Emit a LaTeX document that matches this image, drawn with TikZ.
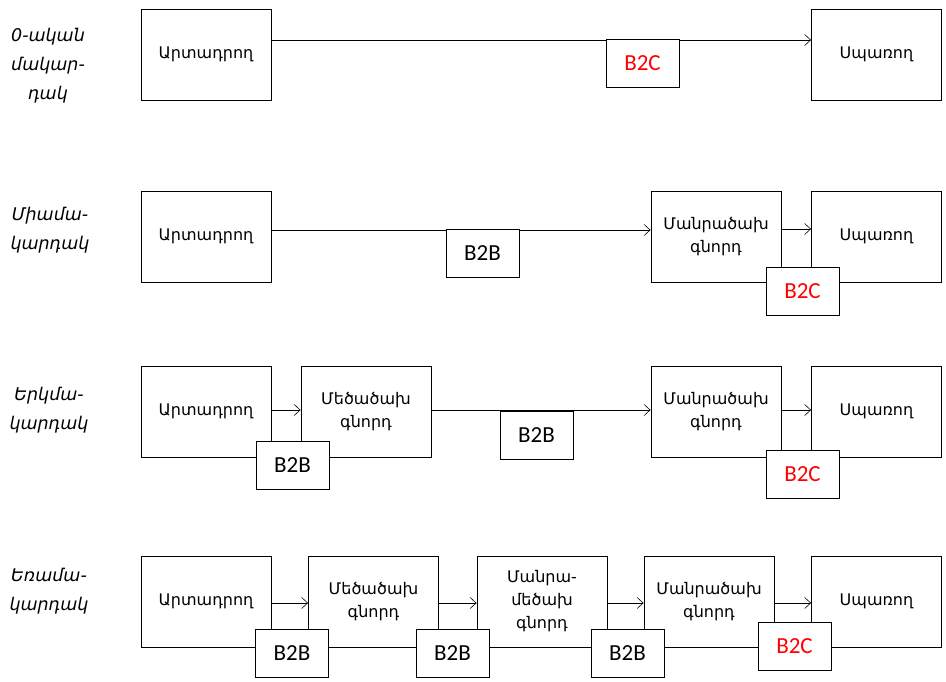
\documentclass[tikz,border=0pt]{standalone}
\usepackage{fontspec}
\setmainfont{DejaVu Sans}
\newfontfamily\tagfont{Carlito}
\usetikzlibrary{arrows.meta}
\begin{document}
\begin{tikzpicture}[x=1pt,y=-1pt,
  box/.style={draw, line width=0.8pt, minimum width=130pt, minimum height=91pt,
    inner sep=0pt, align=center, font=\fontsize{16}{23}\selectfont},
  tag/.style={draw, fill=white, line width=0.8pt, minimum width=73pt,
    minimum height=48pt, inner sep=0pt, font=\tagfont\fontsize{23}{23}\selectfont},
  b2c/.style={tag, text=red},
  level/.style={align=center, font=\itshape\fontsize{17.5}{29}\selectfont},
  flow/.style={line width=0.6pt, -{Straight Barb[length=6pt,width=11pt]}},
]
\useasboundingbox (0,0) rectangle (946,681);

% zero-level channel
\node[level] (l1) at (48,66) {0-ական\\մակար-\\դակ};
\node[box] (p1) at (206,54.5) {Արտադրող};
\node[box] (c1) at (876.5,54.5) {Սպառող};
\draw[flow] ([yshift=14.5pt]p1.east) -- ([yshift=14.5pt]c1.west);
\node[b2c] (t1) at (642.5,63.5) {B2C};

% one-level channel
\node[level] (l2) at (50,230) {Միամա-\\կարդակ};
\node[box] (p2) at (206,236.5) {Արտադրող};
\node[box] (r2) at (716,236.5) {Մանրածախ\\գնորդ};
\node[box] (c2) at (876.5,236.5) {Սպառող};
\draw[flow] ([yshift=6.5pt]p2.east) -- ([yshift=6.5pt]r2.west);
\draw[flow] ([yshift=7.5pt]r2.east) -- ([yshift=7.5pt]c2.west);
\node[tag] (t2a) at (482.5,253) {B2B};
\node[b2c] (t2b) at (802.5,291.5) {B2C};

% two-level channel
\node[level] (l3) at (49,410) {Երկմա-\\կարդակ};
\node[box] (p3) at (206,411.5) {Արտադրող};
\node[box] (w3) at (366,411.5) {Մեծածախ\\գնորդ};
\node[box] (r3) at (716,411.5) {Մանրածախ\\գնորդ};
\node[box] (c3) at (876.5,411.5) {Սպառող};
\draw[flow] ([yshift=1.5pt]p3.east) -- ([yshift=1.5pt]w3.west);
\draw[flow] ([yshift=1.5pt]w3.east) -- ([yshift=1.5pt]r3.west);
\draw[flow] ([yshift=1.5pt]r3.east) -- ([yshift=1.5pt]c3.west);
\node[tag] (t3a) at (292.5,465) {B2B};
\node[tag] (t3b) at (536.5,435.5) {B2B};
\node[b2c] (t3c) at (802.5,474) {B2C};

% three-level channel
\node[level] (l4) at (49,591) {Եռամա-\\կարդակ};
\node[box] (p4) at (206,601.5) {Արտադրող};
\node[box] (w4) at (373.5,601.5) {Մեծածախ\\գնորդ};
\node[box] (m4) at (542,601.5) {Մանրա-\\մեծախ\\գնորդ};
\node[box] (r4) at (709,601.5) {Մանրածախ\\գնորդ};
\node[box] (c4) at (876.5,601.5) {Սպառող};
\draw[flow] ([yshift=-1.5pt]p4.east) -- ([yshift=-1.5pt]w4.west);
\draw[flow] ([yshift=-1.5pt]w4.east) -- ([yshift=-1.5pt]m4.west);
\draw[flow] ([yshift=-1.5pt]m4.east) -- ([yshift=-1.5pt]r4.west);
\draw[flow] ([yshift=-1.5pt]r4.east) -- ([yshift=-1.5pt]c4.west);
\node[tag] (t4a) at (292,653.5) {B2B};
\node[tag] (t4b) at (452.5,653.5) {B2B};
\node[tag] (t4c) at (627.5,653.5) {B2B};
\node[b2c] (t4d) at (794.5,646) {B2C};
\end{tikzpicture}
\end{document}
